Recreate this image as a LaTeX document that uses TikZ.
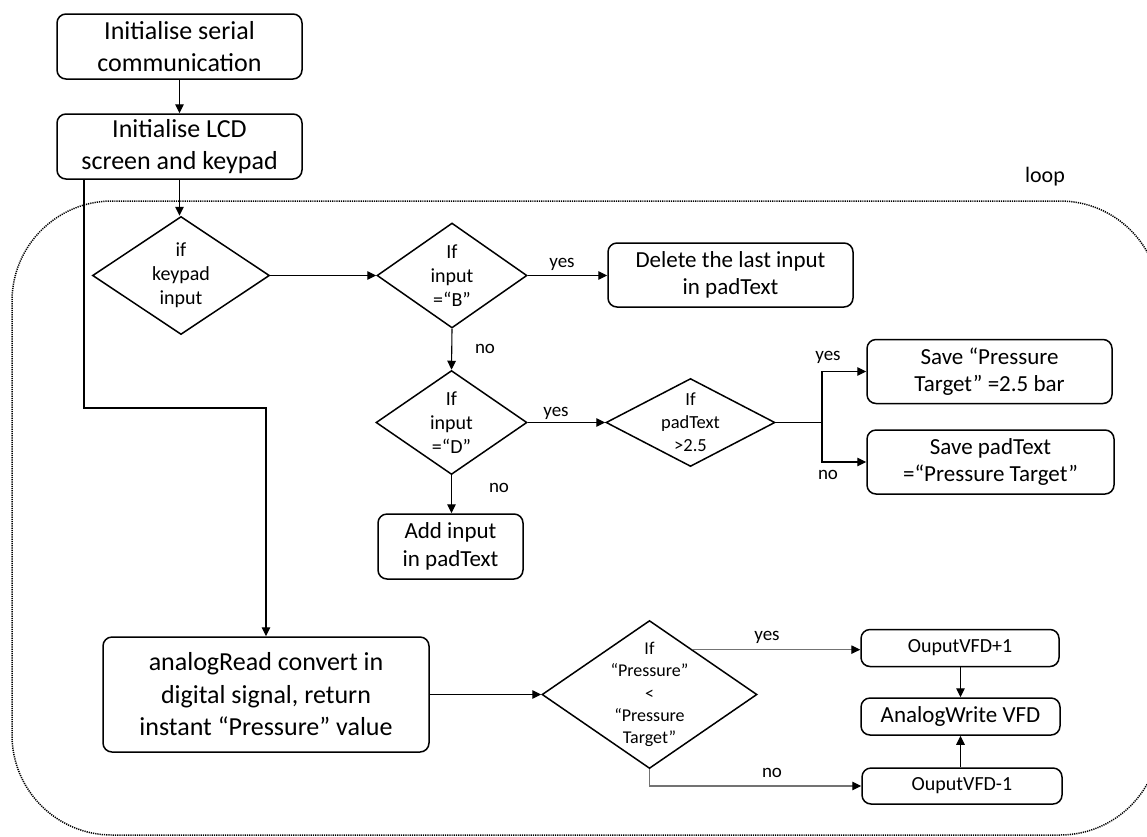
\documentclass[tikz,border=0pt]{standalone}
\usepackage{fontspec}
\setmainfont{Carlito}
\usetikzlibrary{arrows.meta,shapes.geometric,calc}
\newcommand\fsz[2]{\fontsize{#1}{#2}\selectfont}
\begin{document}
\begin{tikzpicture}[x=1pt,y=-1pt,
  box/.style={draw, line width=1.5pt, rounded corners=9pt, align=center, inner sep=0pt},
  dia/.style={draw, line width=1.5pt, shape=diamond, inner sep=0pt, aspect=1},
  dtext/.style={align=center, inner sep=0pt},
  arr/.style={line width=1.1pt, -{Triangle[length=9pt,width=8.5pt]}},
  conn/.style={line width=1.1pt},
  garr/.style={line width=1.1pt, draw=black!55, -{Triangle[length=9pt,width=8.5pt,color=black]}},
  lbl/.style={inner sep=0pt, font=\fsz{19}{23}},
  loopline/.style={line width=1.5pt, dash pattern=on 1.2pt off 1pt, rounded corners=100pt}
]
\useasboundingbox (0,0) rectangle (1147,836);

% loop frame
\draw[loopline] (12,201) rectangle (1160,835);
\node[inner sep=0pt, font=\fsz{22}{26}] (looplbl) at (1045,177) {loop};

% set-up steps
\node[box, minimum width=245pt, minimum height=65pt, font=\fsz{26}{31.5}] (b1) at (179.5,46.5) {Initialise serial\\communication};
\node[box, minimum width=245pt, minimum height=65pt, font=\fsz{26}{31.5}] (b2) at (179.5,146.5) {Initialise LCD\\screen and keypad};

% keypad branch
\node[dia, minimum width=177pt, minimum height=118pt] (dK) at (181,275.5) {};
\node[dtext, font=\fsz{20}{24}] (tK) at (dK.center) {if\\keypad\\input};
\node[dia, minimum width=150pt, minimum height=105pt] (dB) at (452,275.5) {};
\node[dtext, font=\fsz{20}{24}] (tB) at (dB.center) {If\\input\\=“B”};
\node[box, minimum width=245pt, minimum height=64pt, font=\fsz{23}{27.5}] (del) at (730.5,275) {Delete the last input\\in padText};
\node[dia, minimum width=151pt, minimum height=104pt] (dD) at (451.5,422.5) {};
\node[dtext, font=\fsz{20}{24}] (tD) at (dD.center) {If\\input\\=“D”};
\node[dia, minimum width=169pt, minimum height=88pt] (dT) at (690.5,422.5) {};
\node[dtext, font=\fsz{18.5}{23}] (tT) at (dT.center) {If\\padText\\>2.5};
\node[box, minimum width=245pt, minimum height=64pt, font=\fsz{23}{27.5}] (sv1) at (989.5,371.5) {Save “Pressure\\Target” =2.5 bar};
\node[box, minimum width=247pt, minimum height=64pt, font=\fsz{23}{27.5}] (sv2) at (990.5,462) {Save padText\\=“Pressure Target”};
\node[box, minimum width=145pt, minimum height=65pt, font=\fsz{23}{27.5}] (add) at (450.5,546.5) {Add input\\in padText};

% pressure regulation
\node[box, minimum width=326pt, minimum height=115pt, font=\fsz{26}{32.5}] (ar) at (266,694.5) {analogRead convert in\\digital signal, return\\instant “Pressure” value};
\node[dia, minimum width=215pt, minimum height=148pt] (dP) at (649.5,694.5) {};
\node[dtext, font=\fsz{18}{22.3}] (tP) at (dP.center) {If\\“Pressure”\\<\\“Pressure\\Target”};
\node[box, minimum width=198pt, minimum height=37pt, font=\fsz{20}{24}] (vp) at (960,648) {OuputVFD+1};
\node[box, minimum width=199pt, minimum height=37pt, font=\fsz{23}{27}] (aw) at (960.5,716.5) {AnalogWrite VFD};
\node[box, minimum width=200pt, minimum height=36pt, font=\fsz{20}{24}] (vm) at (962,786) {OuputVFD-1};

% connectors
\coordinate (k1) at (84,408);
\coordinate (br) at (822,422.5);
\draw[arr] (b1.south) -- (b2.north);
\draw[arr] (b2.south) -- (b2.south |- dK.north);
\draw[arr] (b2.south -| k1) -- (k1) -| (ar.north);
\draw[arr] (dK.east) -- (dB.west);
\draw[arr] (dB.east) -- (dB.east -| del.west);
\draw[arr] (dB.south) -- (dD.north);
\draw[arr] (dD.east) -- (dT.west);
\draw[arr] (dD.south) -- (dD.south |- add.north);
\draw[conn] (dT.east) -- (br);
\draw[arr] (br) |- (sv1.west);
\draw[arr] (br) |- (sv2.west);
\draw[arr] (ar.east) -- (dP.west);
\coordinate (p1) at ($(dP.north)!0.4!(dP.east)$);
\draw[garr] (p1) -- (p1 -| vp.west);
\draw[garr] (dP.south) |- (vm.west);
\draw[arr] (vp.south -| aw.north) -- (aw.north);
\draw[arr] (vm.north -| aw.south) -- (aw.south);

% branch labels
\node[lbl] (yB) at (562,264) {yes};
\node[lbl] (nB) at (485,349) {no};
\node[lbl] (yD) at (556,413) {yes};
\node[lbl] (nD) at (499,488) {no};
\node[lbl] (yT) at (828,357) {yes};
\node[lbl] (nT) at (828,475) {no};
\node[lbl] (yP) at (767,637) {yes};
\node[lbl] (nP) at (772,773) {no};
\end{tikzpicture}
\end{document}
